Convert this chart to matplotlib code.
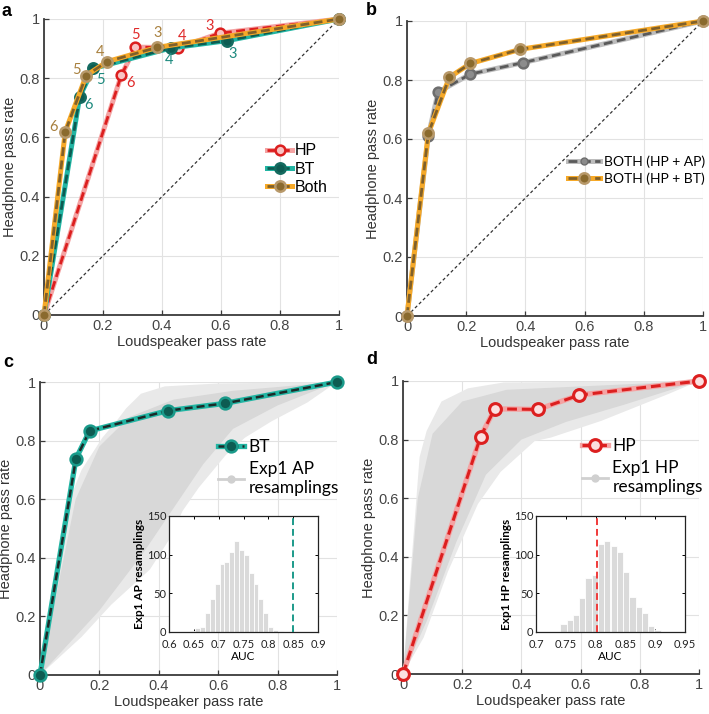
import matplotlib
matplotlib.use('Agg')
import matplotlib.pyplot as plt
from matplotlib.lines import Line2D

plt.rcParams['font.family'] = ['Liberation Sans', 'DejaVu Sans']

# ---------------- data ----------------
ticks = [0, 0.2, 0.4, 0.6, 0.8, 1.0]
tick_labels = ['0', '0.2', '0.4', '0.6', '0.8', '1']
chance_x = [0, 1]
chance_y = [0, 1]

hp_x = [0, 0.262, 0.310, 0.455, 0.596, 1.0]
hp_y = [0, 0.810, 0.905, 0.903, 0.952, 1.0]
bt_x = [0, 0.121, 0.167, 0.430, 0.622, 1.0]
bt_y = [0, 0.738, 0.833, 0.902, 0.927, 1.0]
both_x = [0, 0.072, 0.143, 0.214, 0.383, 1.0]
both_y = [0, 0.619, 0.809, 0.856, 0.904, 1.0]
bothap_x = [0, 0.072, 0.105, 0.214, 0.393, 1.0]
bothap_y = [0, 0.610, 0.759, 0.820, 0.859, 1.0]
point_labels = ['', '6', '5', '4', '3', '']

# envelope of the gray resampling curves (outer and dense core)
c_outer_x = [0, 0.06, 0.10, 0.14, 0.21, 0.26, 0.29, 0.34, 0.42, 0.60, 1.0,
             0.90, 0.78, 0.69, 0.625, 0.535, 0.48, 0.44, 0.37, 0.24, 0.14, 0]
c_outer_y = [0, 0.37, 0.60, 0.70, 0.81, 0.87, 0.91, 0.96, 0.985, 0.995, 1.0,
             0.93, 0.866, 0.81, 0.75, 0.64, 0.56, 0.47, 0.36, 0.24, 0.13, 0]
c_core_x = [0, 0.12, 0.20, 0.30, 0.45, 0.65, 1.0, 0.80, 0.65, 0.55, 0.45, 0.35, 0.20, 0]
c_core_y = [0, 0.60, 0.78, 0.88, 0.94, 0.97, 1.0, 0.92, 0.84, 0.72, 0.57, 0.42, 0.22, 0]

d_outer_x = [0, 0.03, 0.056, 0.08, 0.13, 0.22, 0.34, 1.0,
             0.895, 0.67, 0.50, 0.445, 0.33, 0.253, 0.152, 0.07, 0]
d_outer_y = [0, 0.40, 0.74, 0.83, 0.93, 0.975, 0.995, 1.0,
             0.955, 0.864, 0.807, 0.795, 0.69, 0.58, 0.35, 0.125, 0]
d_core_x = [0, 0.05, 0.10, 0.20, 0.35, 1.0, 0.75, 0.55, 0.40, 0.28, 0.18, 0.08, 0]
d_core_y = [0, 0.60, 0.82, 0.93, 0.97, 1.0, 0.92, 0.86, 0.80, 0.68, 0.45, 0.18, 0]

# AUC histograms of the resamplings
c_hist_start = 0.643
c_hist_width = 0.0098
c_hist_counts = [1, 5, 7, 25, 43, 62, 88, 90, 104, 118, 106, 99, 76, 62, 43, 25, 7, 3, 1]
c_auc_bt = 0.85
c_xticks = [0.6, 0.65, 0.7, 0.75, 0.8, 0.85, 0.9]
c_xticklabels = ['0.6', '0.65', '0.7', '0.75', '0.8', '0.85', '0.9']

d_hist_start = 0.741
d_hist_width = 0.0105
d_hist_counts = [10, 15, 22, 44, 70, 74, 114, 118, 111, 103, 77, 45, 32, 25, 8, 3]
d_auc_hp = 0.803
d_xticks = [0.7, 0.75, 0.8, 0.85, 0.9, 0.95]
d_xticklabels = ['0.7', '0.75', '0.8', '0.85', '0.9', '0.95']
hist_yticks = [0, 50, 100, 150]

# ---------------- styles ----------------
RED_DARK = '#dc1f1f'
RED_LIGHT = '#f4a3a3'
TEAL_LIGHT = '#22b5a3'
TEAL_DARK = '#0d5c52'
ORANGE = '#f6a928'
BROWN = '#80602a'
GRAY_LIGHT = '#bdbdbd'
GRAY_DARK = '#5a5a5a'
SMALL_FONT = ['Liberation Sans Narrow', 'Lato', 'DejaVu Sans']
LEG_FONT = ['Lato', 'DejaVu Sans']

fig = plt.figure(figsize=(7.09, 7.14), dpi=100)

ax_a = fig.add_axes([44 / 709, 1 - 315 / 714, 295 / 709, 296 / 714])
ax_b = fig.add_axes([407 / 709, 1 - 316 / 714, 296 / 709, 295 / 714])
ax_c = fig.add_axes([40 / 709, 1 - 675 / 714, 297 / 709, 293 / 714])
ax_d = fig.add_axes([403 / 709, 1 - 674 / 714, 296 / 709, 293 / 714])


def style_axes(ax):
    ax.set_xlim(0, 1)
    ax.set_ylim(0, 1)
    ax.set_xticks(ticks)
    ax.set_yticks(ticks)
    ax.set_xticklabels(tick_labels)
    ax.set_yticklabels(tick_labels)
    ax.grid(True, color='#e2e2e2', lw=0.8)
    ax.set_axisbelow(True)
    for s in ['top', 'right']:
        ax.spines[s].set_visible(False)
    for s in ['left', 'bottom']:
        ax.spines[s].set_color('#3a3a3a')
        ax.spines[s].set_linewidth(1.3)
    ax.tick_params(direction='in', length=3.5, width=0.9, color='#3a3a3a',
                   labelcolor='#454545', labelsize=10.5, pad=3)
    ax.set_xlabel('Loudspeaker pass rate', fontsize=10.5, color='#333333', labelpad=1)
    ax.set_ylabel('Headphone pass rate', fontsize=10.5, color='#333333', labelpad=2)


def series(ax, x, y, under, dash, mfc, mec, ms, z, lw_u=3.6, lw_d=2.0, mew=1.8):
    l1, = ax.plot(x, y, '-', color=under, lw=lw_u, clip_on=False, zorder=z,
                  solid_joinstyle='round')
    l2, = ax.plot(x, y, '--', color=dash, lw=lw_d, dashes=(3.2, 1.6), marker='o',
                  ms=ms, mfc=mfc, mec=mec, mew=mew, clip_on=False, zorder=z + 0.1)
    return (l1, l2)


def chance(ax):
    ax.plot(chance_x, chance_y, color='#333333', lw=0.9, dashes=(2.5, 2), zorder=1)


# ---------------- panel a ----------------
style_axes(ax_a)
chance(ax_a)
h_hp = series(ax_a, hp_x, hp_y, RED_LIGHT, RED_DARK, '#f8c4c4', RED_DARK, 7, 3)
h_bt = series(ax_a, bt_x, bt_y, TEAL_LIGHT, TEAL_DARK, TEAL_DARK, '#156b60', 7.5, 4)
h_both = series(ax_a, both_x, both_y, ORANGE, BROWN, '#8a6a2e', '#b8996a', 7.5, 5)

hp_off = [None, (9, -8), (0, 12), (4, 12), (-10, 7), None]
bt_off = [None, (9, -8), (7, -12), (-2, -12), (5, -13), None]
both_off = [None, (-12, 5), (-10, 6), (-7, 10), (1, 14), None]
for xs, ys, offs, col in [(hp_x, hp_y, hp_off, '#e02a2a'),
                          (bt_x, bt_y, bt_off, '#1d8a7e'),
                          (both_x, both_y, both_off, '#a8803e')]:
    for xi, yi, lab, off in zip(xs, ys, point_labels, offs):
        if lab:
            ax_a.annotate(lab, (xi, yi), xytext=off, textcoords='offset pixels',
                          ha='center', va='center', color=col, zorder=10,
                          fontsize=10.5, family=LEG_FONT)

ax_a.legend([h_hp, h_bt, h_both], ['HP', 'BT', 'Both'], loc='upper left',
            bbox_to_anchor=(0.755, 0.58), frameon=False, fontsize=11.5,
            handlelength=1.6, handletextpad=0.15, labelspacing=0.2, borderpad=0,
            borderaxespad=0)

# ---------------- panel b ----------------
style_axes(ax_b)
chance(ax_b)
h_ap = series(ax_b, bothap_x, bothap_y, GRAY_LIGHT, GRAY_DARK, '#8c8c8c', '#6e6e6e', 7, 3)
h_bt2 = series(ax_b, both_x, both_y, ORANGE, BROWN, '#8a6a2e', '#b8996a', 7.5, 4)
leg_ap = (Line2D([], [], color=GRAY_LIGHT, lw=3.6),
          Line2D([], [], color=GRAY_DARK, lw=2, dashes=(3.2, 1.6), marker='o', ms=5,
                 mfc='#8c8c8c', mec='#6e6e6e'))
ax_b.legend([leg_ap, h_bt2], ['BOTH (HP + AP)', 'BOTH (HP + BT)'], loc='upper left',
            bbox_to_anchor=(0.545, 0.545), frameon=False,
            prop={'family': LEG_FONT, 'size': 10},
            handlelength=2.3, handletextpad=0.3, labelspacing=0.35, borderpad=0,
            borderaxespad=0)

# ---------------- panel c ----------------
style_axes(ax_c)
ax_c.fill(c_outer_x, c_outer_y, color='#e9e9e9', lw=0, zorder=1.5)
ax_c.fill(c_core_x, c_core_y, color='#d8d8d8', lw=0, zorder=1.6)
h_btc = series(ax_c, bt_x, bt_y, TEAL_LIGHT, '#1c2a28', TEAL_DARK, '#1a9a8a', 8.5, 4,
               lw_u=3.8, lw_d=1.8)
h_grayc = Line2D([], [], color='#d0d0d0', lw=2, marker='o', ms=5, mfc='#d0d0d0',
                 mec='#d0d0d0')
ax_c.legend([h_btc, h_grayc], ['BT', 'Exp1 AP\nresamplings'], loc='upper left',
            bbox_to_anchor=(0.60, 0.805), frameon=False,
            prop={'family': LEG_FONT, 'size': 12.5},
            handlelength=1.5, handletextpad=0.25, labelspacing=0.35, borderpad=0,
            borderaxespad=0)

# ---------------- panel d ----------------
style_axes(ax_d)
ax_d.fill(d_outer_x, d_outer_y, color='#e9e9e9', lw=0, zorder=1.5)
ax_d.fill(d_core_x, d_core_y, color='#d8d8d8', lw=0, zorder=1.6)
h_hpd = series(ax_d, hp_x, hp_y, RED_LIGHT, RED_DARK, '#fbe0e0', RED_DARK, 8.5, 4,
               lw_u=3.8, lw_d=2.2, mew=2.2)
h_grayd = Line2D([], [], color='#d0d0d0', lw=2, marker='o', ms=5, mfc='#d0d0d0',
                 mec='#d0d0d0')
ax_d.legend([h_hpd, h_grayd], ['HP', 'Exp1 HP\nresamplings'], loc='upper left',
            bbox_to_anchor=(0.605, 0.805), frameon=False,
            prop={'family': LEG_FONT, 'size': 12.5},
            handlelength=1.5, handletextpad=0.25, labelspacing=0.35, borderpad=0,
            borderaxespad=0)


# ---------------- insets ----------------
def inset(rect, start, width, counts, xlim, xt, xtl, vline, vcol, ylab):
    ax = fig.add_axes(rect)
    lefts = [start + i * width for i in range(len(counts))]
    ax.bar(lefts, counts, width=width, align='edge', color='#dadada',
           edgecolor='white', linewidth=0.6, zorder=2)
    ax.axvline(vline, color=vcol, lw=1.4, dashes=(3.5, 2), zorder=3)
    ax.set_xlim(*xlim)
    ax.set_ylim(0, 150)
    ax.set_xticks(xt)
    ax.set_xticklabels(xtl)
    ax.set_yticks(hist_yticks)
    for s in ax.spines.values():
        s.set_color('#222222')
        s.set_linewidth(0.9)
    ax.tick_params(direction='in', length=2.5, width=0.7, top=True, right=True,
                   labelsize=8, labelcolor='#222222')
    ax.tick_params(axis='x', pad=5)
    ax.tick_params(axis='y', pad=2)
    for t in ax.get_xticklabels() + ax.get_yticklabels():
        t.set_family(SMALL_FONT)
    ax.set_xlabel('AUC', fontsize=8.5, family=SMALL_FONT, labelpad=0.5)
    ax.set_ylabel(ylab, fontsize=8.5, family=SMALL_FONT, weight='bold',
                  labelpad=1)
    return ax


inset([169 / 709, 1 - 632 / 714, 149 / 709, 116 / 714], c_hist_start, c_hist_width,
      c_hist_counts, (0.6, 0.9), c_xticks, c_xticklabels, c_auc_bt, '#1c9a8a',
      'Exp1 AP resamplings')
inset([536 / 709, 1 - 632 / 714, 149 / 709, 116 / 714], d_hist_start, d_hist_width,
      d_hist_counts, (0.7, 0.95), d_xticks, d_xticklabels, d_auc_hp, '#f03a3a',
      'Exp1 HP resamplings')

# ---------------- panel letters ----------------
for (px, py, lab) in [(2, 3, 'a'), (366, 2, 'b'), (3, 354, 'c'), (366, 351, 'd')]:
    fig.text(px / 709, 1 - py / 714, lab, fontsize=13, weight='bold', va='top',
             ha='left', color='black')

fig.savefig('out.png', dpi=100)
